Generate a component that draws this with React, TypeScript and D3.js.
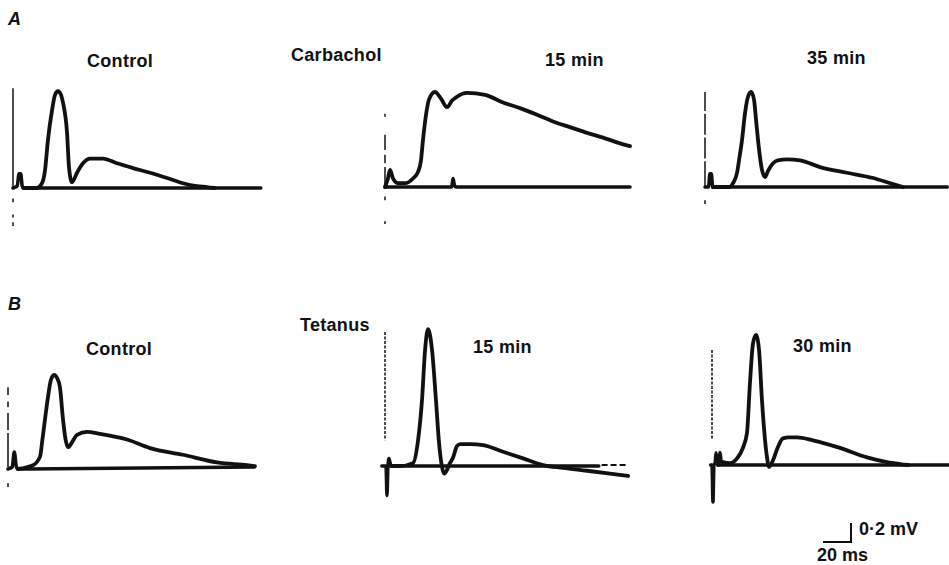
import React from "react";
import * as d3 from "d3";

// ---------- data (time in ms from stimulus, amplitude in mV) ----------
const aControlBase: [number, number][] = [[0, 0], [3, 0.02], [4.3, 0.15], [5.5, 0.15], [6.6, 0.02], [7.5, 0], [177, 0]];
const aControlEvoked: [number, number][] = [[7.5, 0], [17, 0], [20.7, 0.05], [22.9, 0.19], [25, 0.51], [27.9, 0.82], [30, 0.98], [32.1, 1.02], [34.3, 0.98], [35.7, 0.9], [38.6, 0.58], [40, 0.22], [42.1, 0.06], [45.7, 0.16], [50, 0.26], [55, 0.31], [64.3, 0.31], [74.3, 0.26], [85.7, 0.21], [97.9, 0.16], [110, 0.105], [121.4, 0.05], [131.4, 0.02], [138.6, 0.01], [144, 0]];
const aControlStim: [number, number][] = [[1.05, 0], [-0.11, -0.15], [-0.28, -0.31], [-0.36, -0.4]];

const aCarb15Base: [number, number][] = [[0, 0], [47.6, 0], [48.6, 0.09], [49.6, 0.02], [50.6, 0], [175, 0]];
const aCarb15Evoked: [number, number][] = [[0, 0], [2.1, 0.09], [3.6, 0.18], [5.7, 0.09], [9.3, 0.04], [14.3, 0.04], [20, 0.09], [23.6, 0.16], [25.7, 0.28], [27.1, 0.49], [29.3, 0.76], [31.4, 0.92], [35.7, 1.0], [40, 0.93], [44.3, 0.84], [47.9, 0.91], [51.4, 0.95], [58.6, 0.99], [71.4, 0.97], [84.3, 0.89], [96.4, 0.83], [108.6, 0.76], [120, 0.69], [132.1, 0.63], [144.3, 0.57], [155.7, 0.52], [165.7, 0.47], [175, 0.43]];
const aCarb15Stim: [number, number][] = [[0.77, 0.74], [0.55, 0.39], [0.34, 0.25], [0.21, 0], [-0.1, -0.14], [-0.36, -0.39]];

const a35Base: [number, number][] = [[0, 0], [2.5, 0], [3.5, 0.14], [4.5, 0.14], [5.5, 0], [173, 0]];
const a35Evoked: [number, number][] = [[5.5, 0], [17.9, 0], [20, 0.04], [22.9, 0.15], [24.5, 0.3], [26.4, 0.49], [28.6, 0.78], [30.7, 0.95], [32.9, 1.0], [35, 0.92], [36.5, 0.7], [37.9, 0.49], [40.7, 0.18], [42.9, 0.105], [45, 0.17], [48.6, 0.25], [52, 0.28], [58.6, 0.29], [67.9, 0.28], [82.1, 0.21], [101.4, 0.15], [120, 0.095], [134.3, 0.03], [141.4, 0]];
const a35Stim: [number, number][] = [[1.0, 0.8], [0.77, 0.55], [0.52, 0.3], [0.27, 0], [-0.14, -0.18]];

const bControlBase: [number, number][] = [[0, 0], [3, 0.02], [4.5, 0.18], [6, 0.02], [7, 0], [176, 0.02]];
const bControlEvoked: [number, number][] = [[7, 0], [17.9, 0.04], [22.9, 0.13], [24.5, 0.3], [26.4, 0.52], [28.6, 0.76], [30.7, 0.94], [32.9, 0.99], [35, 0.96], [37.1, 0.86], [39.3, 0.52], [41, 0.32], [42.9, 0.23], [45.7, 0.28], [49.3, 0.36], [56.4, 0.39], [65.7, 0.37], [85, 0.31], [101.4, 0.22], [125, 0.15], [149.3, 0.07], [170.7, 0.04], [176.4, 0.03]];
const bControlStim: [number, number][] = [[0.86, 0.78], [0.71, 0.65], [0.59, 0.41], [0.38, 0.02], [-0.15, -0.19]];

const bTet15Base: [number, number][] = [[-3, 0], [0, 0], [0.7, -0.31], [1.4, 0], [2.1, 0.08], [3.6, 0], [152, 0]];
const bTet15BaseTail: [number, number][] = [[154, 0.01], [173, 0.01]];
const bTet15Evoked: [number, number][] = [[3.6, 0], [10, 0], [19.3, 0.03], [22.9, 0.27], [25.7, 0.69], [27.9, 1.22], [30, 1.44], [32.9, 1.22], [35.7, 0.69], [37.9, 0.24], [40, -0.01], [41.4, -0.08], [43.6, -0.04], [45, 0.01], [47.9, 0.09], [50.7, 0.21], [53, 0.23], [60, 0.23], [69.3, 0.22], [83.6, 0.15], [97.9, 0.08], [112.1, 0.01], [126.4, -0.02], [143.6, -0.05], [160, -0.08], [172.9, -0.105]];
const bTet15Stim: [number, number][] = [[1.41, 0.27]];

const bTet30Base: [number, number][] = [[-1, 0], [0, 0], [0.7, -0.39], [1.4, 0], [2.2, 0.02], [2.9, 0.13], [3.6, 0.02], [4.3, 0], [169, 0]];
const bTet30Evoked: [number, number][] = [[4.3, 0], [5.2, 0.05], [5.7, 0.13], [6.4, 0.04], [8, 0.03], [12.9, 0.02], [17.9, 0.07], [22.1, 0.18], [25, 0.34], [27.1, 0.86], [29.3, 1.28], [31.4, 1.37], [33.6, 1.21], [35.7, 0.68], [39.3, 0.08], [40.7, -0.02], [43.6, 0.05], [47.1, 0.19], [50.7, 0.28], [55, 0.29], [60.7, 0.29], [72.1, 0.26], [91.4, 0.18], [110.7, 0.08], [125, 0.03], [134.3, 0.01], [140, 0]];
const bTet30Stim: [number, number][] = [[1.21, 0.28]];

const sectionLabels = ["A", "B"];
const conditionLabels = ["Control", "Carbachol", "15 min", "35 min", "Control", "Tetanus", "15 min", "30 min"];
const scaleBarMs = 20;
const scaleBarMv = 0.2;
const scaleBarText = ["0·2 mV", "20 ms"];

// ---------- layout ----------
const PX_PER_MS = 1.4;
const PX_PER_MV = 95;

type Panel = {
  x0: number; y0: number;
  base: [number, number][];
  evoked: [number, number][];
  stim: [number, number][];
  stimDashed: boolean;
  stimT: number;
  tail?: [number, number][];
};

const panels: Panel[] = [
  { x0: 13, y0: 188, base: aControlBase, evoked: aControlEvoked, stim: aControlStim, stimDashed: false, stimT: 0 },
  { x0: 385, y0: 187, base: aCarb15Base, evoked: aCarb15Evoked, stim: aCarb15Stim, stimDashed: false, stimT: 0 },
  { x0: 705, y0: 187, base: a35Base, evoked: a35Evoked, stim: a35Stim, stimDashed: false, stimT: 0 },
  { x0: 8, y0: 469, base: bControlBase, evoked: bControlEvoked, stim: bControlStim, stimDashed: false, stimT: 0 },
  { x0: 386, y0: 466, base: bTet15Base, evoked: bTet15Evoked, stim: bTet15Stim, stimDashed: true, stimT: -0.7, tail: bTet15BaseTail },
  { x0: 712, y0: 465, base: bTet30Base, evoked: bTet30Evoked, stim: bTet30Stim, stimDashed: true, stimT: 0 },
];

const condPos: { x: number; y: number }[] = [
  { x: 87, y: 67 }, { x: 291, y: 61 }, { x: 545, y: 66 }, { x: 807, y: 64 },
  { x: 86, y: 355 }, { x: 300, y: 331 }, { x: 473, y: 353 }, { x: 793, y: 352 },
];
const sectionPos = [{ x: 8, y: 25 }, { x: 8, y: 310 }];

const FONT = "'Liberation Sans', Arial, Helvetica, sans-serif";

function PanelView({ p }: { p: Panel }) {
  const x = d3.scaleLinear().domain([0, 100]).range([p.x0, p.x0 + 100 * PX_PER_MS]);
  const y = d3.scaleLinear().domain([0, 1]).range([p.y0, p.y0 - PX_PER_MV]);
  const line = d3.line<[number, number]>().x(d => x(d[0])).y(d => y(d[1])).curve(d3.curveMonotoneX);
  const sx = x(p.stimT);
  return (
    <g>
      {p.stim.map((s, i) => (
        <line key={i} x1={sx} x2={sx} y1={y(s[0])} y2={y(s[1])} stroke="#111" strokeWidth={1.5}
          strokeDasharray={p.stimDashed ? "3 1.5" : undefined} />
      ))}
      <path d={line(p.base) || ""} fill="none" stroke="#111" strokeWidth={3.5} strokeLinejoin="round" strokeLinecap="round" />
      {p.tail && (
        <path d={line(p.tail) || ""} fill="none" stroke="#111" strokeWidth={2} strokeDasharray="6 3" />
      )}
      <path d={line(p.evoked) || ""} fill="none" stroke="#111" strokeWidth={3.8} strokeLinejoin="round" strokeLinecap="round" />
    </g>
  );
}

export default function App() {
  const sbX = d3.scaleLinear().domain([0, scaleBarMs]).range([823, 823 + scaleBarMs * PX_PER_MS]);
  const sbY = d3.scaleLinear().domain([0, scaleBarMv]).range([542, 542 - scaleBarMv * PX_PER_MV]);
  return (
    <svg width={949} height={565} style={{ position: "absolute", left: 0, top: 0, background: "#fff" }}>
      <rect width={949} height={565} fill="#fff" />
      {panels.map((p, i) => <PanelView key={i} p={p} />)}
      {sectionLabels.map((s, i) => (
        <text key={s} x={sectionPos[i].x} y={sectionPos[i].y} fontFamily={FONT} fontSize={18}
          fontWeight="bold" fontStyle="italic" fill="#111">{s}</text>
      ))}
      {conditionLabels.map((c, i) => (
        <text key={i} x={condPos[i].x} y={condPos[i].y} fontFamily={FONT} fontSize={18}
          fontWeight="bold" fill="#111" letterSpacing={0.3}>{c}</text>
      ))}
      <path d={`M${sbX(0)},${sbY(0)} L${sbX(scaleBarMs)},${sbY(0)} L${sbX(scaleBarMs)},${sbY(scaleBarMv)}`}
        fill="none" stroke="#111" strokeWidth={2} />
      <text x={859} y={535} fontFamily={FONT} fontSize={18} fontWeight="bold" fill="#111">{scaleBarText[0]}</text>
      <text x={817} y={561} fontFamily={FONT} fontSize={18} fontWeight="bold" fill="#111">{scaleBarText[1]}</text>
    </svg>
  );
}
